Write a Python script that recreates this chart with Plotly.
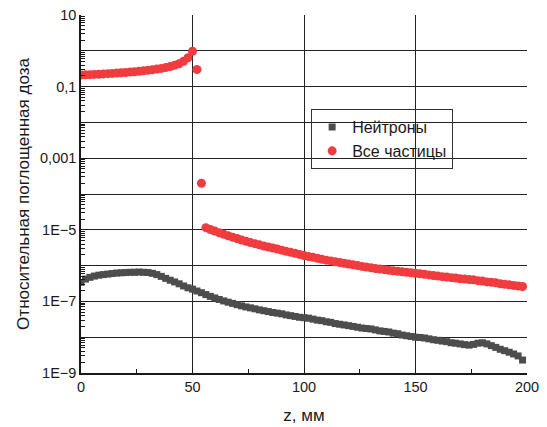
import plotly.graph_objects as go

z_mm = [0, 2, 4, 6, 8, 10, 12, 14, 16, 18, 20, 22, 24, 26, 28, 30, 32, 34, 36, 38,
        40, 42, 44, 46, 48, 50, 52, 54, 56, 58, 60, 62, 64, 66, 68, 70, 72, 74, 76, 78,
        80, 82, 84, 86, 88, 90, 92, 94, 96, 98, 100, 102, 104, 106, 108, 110, 112, 114, 116, 118,
        120, 122, 124, 126, 128, 130, 132, 134, 136, 138, 140, 142, 144, 146, 148, 150, 152, 154, 156, 158,
        160, 162, 164, 166, 168, 170, 172, 174, 176, 178, 180, 182, 184, 186, 188, 190, 192, 194, 196, 198]

neutrons = [3.4e-7, 4.2e-7, 4.7e-7, 5.1e-7, 5.4e-7, 5.6e-7, 5.8e-7, 6.0e-7, 6.2e-7, 6.3e-7,
            6.4e-7, 6.5e-7, 6.5e-7, 6.6e-7, 6.5e-7, 6.4e-7, 6.1e-7, 5.6e-7, 5.0e-7, 4.4e-7,
            3.9e-7, 3.5e-7, 3.1e-7, 2.7e-7, 2.4e-7, 2.2e-7, 1.95e-7, 1.75e-7, 1.55e-7, 1.38e-7,
            1.25e-7, 1.13e-7, 1.03e-7, 9.5e-8, 8.8e-8, 8.1e-8, 7.5e-8, 7.0e-8, 6.6e-8, 6.2e-8,
            5.8e-8, 5.5e-8, 5.2e-8, 4.9e-8, 4.7e-8, 4.5e-8, 4.2e-8, 4.0e-8, 3.8e-8, 3.6e-8,
            3.5e-8, 3.4e-8, 3.2e-8, 3.0e-8, 2.9e-8, 2.7e-8, 2.6e-8, 2.4e-8, 2.3e-8, 2.2e-8,
            2.1e-8, 2.0e-8, 1.9e-8, 1.8e-8, 1.75e-8, 1.7e-8, 1.6e-8, 1.5e-8, 1.45e-8, 1.4e-8,
            1.3e-8, 1.25e-8, 1.15e-8, 1.1e-8, 1.05e-8, 1.0e-8, 9.8e-9, 9.5e-9, 9.0e-9, 8.5e-9,
            8.2e-9, 7.8e-9, 7.5e-9, 7.0e-9, 6.8e-9, 6.5e-9, 6.2e-9, 6.0e-9, 6.3e-9, 6.8e-9,
            7.0e-9, 6.5e-9, 5.8e-9, 5.2e-9, 4.6e-9, 4.2e-9, 3.8e-9, 3.4e-9, 3.0e-9, 2.3e-9]

all_particles = [0.210, 0.213, 0.216, 0.219, 0.222, 0.226, 0.230, 0.234, 0.238, 0.243,
                 0.248, 0.254, 0.260, 0.267, 0.275, 0.284, 0.295, 0.308, 0.322, 0.340,
                 0.362, 0.392, 0.435, 0.51, 0.64, 0.97, 0.30, 2.0e-4, 1.15e-5, 1.02e-5,
                 9.2e-6, 8.3e-6, 7.5e-6, 6.8e-6, 6.2e-6, 5.7e-6, 5.2e-6, 4.8e-6, 4.4e-6, 4.1e-6,
                 3.8e-6, 3.5e-6, 3.3e-6, 3.1e-6, 2.9e-6, 2.7e-6, 2.5e-6, 2.35e-6, 2.2e-6, 2.05e-6,
                 1.9e-6, 1.8e-6, 1.7e-6, 1.6e-6, 1.5e-6, 1.42e-6, 1.35e-6, 1.28e-6, 1.22e-6, 1.16e-6,
                 1.1e-6, 1.05e-6, 1.0e-6, 9.5e-7, 9.1e-7, 8.7e-7, 8.3e-7, 8.0e-7, 7.7e-7, 7.4e-7,
                 7.2e-7, 6.9e-7, 6.7e-7, 6.5e-7, 6.3e-7, 6.1e-7, 5.9e-7, 5.7e-7, 5.5e-7, 5.3e-7,
                 5.1e-7, 4.9e-7, 4.8e-7, 4.6e-7, 4.5e-7, 4.3e-7, 4.2e-7, 4.1e-7, 4.0e-7, 3.8e-7,
                 3.7e-7, 3.5e-7, 3.4e-7, 3.3e-7, 3.1e-7, 3.0e-7, 2.9e-7, 2.8e-7, 2.7e-7, 2.6e-7]

y_tickvals = [10, 1, 0.1, 0.01, 0.001, 1e-4, 1e-5, 1e-6, 1e-7, 1e-8, 1e-9]
y_ticktext = ["10", "", "0,1", "", "0,001", "", "1E\u22125", "", "1E\u22127", "", "1E\u22129"]
y_minor = [m * 10.0 ** e for e in range(-9, 1) for m in range(2, 10)]

FONT = "Liberation Sans, Arial, sans-serif"

fig = go.Figure()
fig.add_trace(go.Scatter(
    x=z_mm, y=neutrons, mode="markers", name="Нейтроны",
    marker=dict(symbol="square", size=7, color="#4d4d4d", line=dict(width=0)),
))
fig.add_trace(go.Scatter(
    x=z_mm, y=all_particles, mode="markers", name="Все частицы",
    marker=dict(symbol="circle", size=9, color="#f03c3f", line=dict(width=0)),
))

fig.update_layout(
    width=547, height=427,
    margin=dict(l=81, r=20, t=15, b=54),
    paper_bgcolor="white", plot_bgcolor="white",
    font=dict(family=FONT, size=14, color="#1a1a1a"),
    showlegend=True,
    legend=dict(
        x=0.516, y=0.737, xanchor="left", yanchor="top",
        bgcolor="rgba(0,0,0,0)", bordercolor="#333333", borderwidth=1,
        font=dict(family=FONT, size=16, color="#1a1a1a"),
        itemwidth=30, tracegroupgap=0,
    ),
    xaxis=dict(
        range=[0, 200], tickmode="array", tickvals=[0, 50, 100, 150, 200],
        ticks="inside", ticklen=6, tickwidth=1, tickcolor="#1a1a1a",
        showline=True, linecolor="#1a1a1a", linewidth=1.5,
        showgrid=True, gridcolor="#222222", gridwidth=1.2,
        zeroline=False, automargin=False,
        minor=dict(tickvals=[25, 75, 125, 175], ticks="inside", ticklen=4,
                   tickcolor="#1a1a1a", showgrid=False),
        title=dict(text="z, мм", font=dict(family=FONT, size=17)),
        tickfont=dict(size=14.5),
    ),
    yaxis=dict(
        type="log", range=[-9, 1],
        tickmode="array", tickvals=y_tickvals, ticktext=y_ticktext,
        ticks="inside", ticklen=6, tickwidth=1, tickcolor="#1a1a1a",
        showline=True, linecolor="#1a1a1a", linewidth=1.5,
        showgrid=True, gridcolor="#222222", gridwidth=1.2,
        zeroline=False, automargin=False,
        minor=dict(tickvals=y_minor, ticks="inside", ticklen=4,
                   tickcolor="#1a1a1a", showgrid=False),
        title=dict(text="Относительная поглощенная доза", font=dict(family=FONT, size=17), standoff=6),
        tickfont=dict(size=14.5),
    ),
)

fig.write_html("out.html")
